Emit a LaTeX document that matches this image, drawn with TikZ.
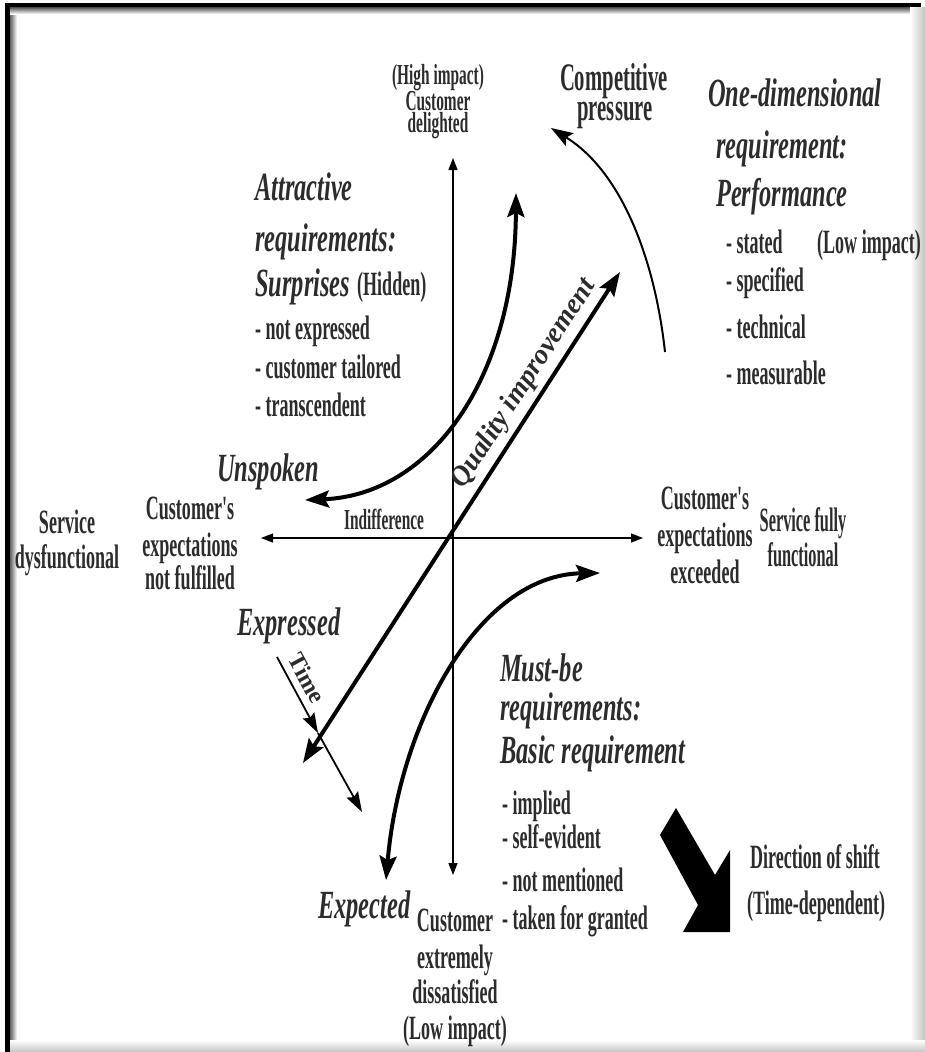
\documentclass[tikz,border=0pt]{standalone}
\usepackage{fontspec}
\setmainfont{Liberation Serif}
\newfontfamily\condfont{Liberation Serif}[FakeStretch=0.53]
\newfontfamily\narrowfont{Liberation Serif}[FakeStretch=0.48]
\newfontfamily\headfont{Liberation Serif}[FakeStretch=0.61]
\usetikzlibrary{arrows.meta}
\definecolor{ink}{HTML}{2C2C2C}
\definecolor{edgegray}{HTML}{C4C4C4}

\begin{document}
\begin{tikzpicture}[x=1pt,y=-1pt,
  body/.style={font=\condfont\bfseries\fontsize{34}{38}\selectfont, text=ink, inner sep=0pt, anchor=base west},
  bodyc/.style={body, anchor=base},
  small/.style={font=\condfont\bfseries\fontsize{29}{32}\selectfont, text=ink, inner sep=0pt, anchor=base},
  big/.style={font=\condfont\bfseries\fontsize{39}{44}\selectfont, text=ink, inner sep=0pt, anchor=base},
  head/.style={font=\headfont\bfseries\itshape\fontsize{40}{44}\selectfont, text=ink, inner sep=0pt, anchor=base west},
  axis/.style={line width=1.3pt, {Triangle[length=12pt,width=9pt]}-{Triangle[length=12pt,width=9pt]}},
  boldarrow/.style={line width=4pt, {Stealth[length=24pt,width=17pt,inset=4pt]}-{Stealth[length=24pt,width=17pt,inset=4pt]}},
  thinarrow/.style={line width=2pt, -{Stealth[length=22pt,width=15pt,inset=4pt]}},
  timearrow/.style={line width=1.8pt, -{Stealth[length=20pt,width=13pt,inset=3pt]}}
]
\useasboundingbox (0,0) rectangle (925,1052);
\fill[white] (0,0) rectangle (925,1052);

% frame: dark border top-left, soft grey edges right and bottom
\shade[left color=black!70, right color=white] (9,3) rectangle (17,1052);
\shade[top color=black!70, bottom color=white] (5,7) rectangle (925,14);
\shade[left color=white, right color=edgegray] (910,7) rectangle (925,1052);
\shade[top color=white, bottom color=edgegray] (9,1040) rectangle (925,1052);
\fill[black] (5,3) rectangle (10,1052);
\fill[black] (5,3) rectangle (921,7);

% anchor points of the axes and arrows
\coordinate (vtop) at (453,158);
\coordinate (vbot) at (453,875);
\coordinate (hl) at (261,538);
\coordinate (hr) at (643,538);
\coordinate (q1) at (303,763);
\coordinate (q2) at (620,272);
\coordinate (a1) at (305,500);
\coordinate (a2) at (516,193);
\coordinate (m1) at (386,880);
\coordinate (m2) at (600,573);
\coordinate (c1) at (665,352);
\coordinate (c2) at (551,128);
\coordinate (t1) at (277,657);
\coordinate (tm) at (318,733);
\coordinate (t2) at (362,812);

% axes
\draw[axis] (vbot) -- (vtop);
\draw[axis] (hl) -- (hr);

% quality improvement diagonal
\draw[boldarrow] (q1) -- (q2)
  node[pos=0.75, sloped, above=5pt, font=\bfseries\itshape\fontsize{28}{30}\selectfont, text=ink, inner sep=0pt] (qlabel) {Quality improvement};

% attractive and must-be curves
\draw[boldarrow] (a1) .. controls (430,495) and (515,380) .. (a2);
\draw[boldarrow] (m1) .. controls (400,720) and (480,575) .. (m2);

% competitive pressure arc
\draw[thinarrow] (c1) .. controls (655,260) and (622,172) .. (c2);

% time arrow with a mid arrowhead
\draw[timearrow] (t1) -- (tm)
  node[pos=0.38, sloped, above=7pt, font=\bfseries\fontsize{24}{26}\selectfont, text=ink, inner sep=0pt] (tlabel) {Time};
\draw[timearrow] (tm) -- (t2);

% direction of shift arrow
\fill[black] (676,808) -- (715,875) -- (730,850) -- (730,932) -- (683,932) -- (698,905) -- (660,835) -- cycle;

% top of vertical axis
\node[small] (hi) at (438,84) {(High impact)};
\node[small] (cd1) at (438,110) {Customer};
\node[small] (cd2) at (438,132) {delighted};

\node[big] (cp1) at (614,90) {Competitive};
\node[big] (cp2) at (615,120) {pressure};

% one-dimensional requirements
\node[head] (od1) at (708,106) {One-dimensional};
\node[head] (od2) at (716,158) {requirement:};
\node[head] (od3) at (716,206) {Performance};
\node[body] (od4) at (726,253) {- stated};
\node[body] (od5) at (817,253) {(Low impact)};
\node[body] (od6) at (726,291) {- specified};
\node[body] (od7) at (726,338) {- technical};
\node[body] (od8) at (726,384) {- measurable};

% attractive requirements
\node[head] (at1) at (255,200) {Attractive};
\node[head] (at2) at (255,251) {requirements:};
\node[head] (at3) at (255,296) {Surprises};
\node[body] (at4) at (357,295) {(Hidden)};
\node[body] (at5) at (255,339) {- not expressed};
\node[body] (at6) at (255,378) {- customer tailored};
\node[body] (at7) at (255,416) {- transcendent};

\node[head] (unsp) at (217,481) {Unspoken};
\node[font=\condfont\bfseries\fontsize{29}{32}\selectfont, text=ink, inner sep=0pt, anchor=base] (indiff) at (384,529) {Indifference};

% left end of horizontal axis
\node[bodyc] (sd1) at (67,533) {Service};
\node[bodyc] (sd2) at (67,568) {dysfunctional};
\node[bodyc] (nf1) at (190,519) {Customer's};
\node[bodyc] (nf2) at (190,556) {expectations};
\node[bodyc] (nf3) at (190,589) {not fulfilled};

% right end of horizontal axis
\node[bodyc] (ex1) at (705,509) {Customer's};
\node[bodyc] (ex2) at (705,546) {expectations};
\node[bodyc] (ex3) at (705,583) {exceeded};
\node[font=\narrowfont\bfseries\fontsize{34}{38}\selectfont, text=ink, inner sep=0pt, anchor=base] (sf1) at (803,531) {Service fully};
\node[font=\narrowfont\bfseries\fontsize{34}{38}\selectfont, text=ink, inner sep=0pt, anchor=base] (sf2) at (803,566) {functional};

\node[head] (expr) at (237,635) {Expressed};

% must-be requirements
\node[head] (mb1) at (500,681) {Must-be};
\node[head] (mb2) at (500,720) {requirements:};
\node[head] (mb3) at (500,763) {Basic requirement};
\node[body] (mb4) at (502,814) {- implied};
\node[body] (mb5) at (502,848) {- self-evident};
\node[body] (mb6) at (502,891) {- not mentioned};
\node[body] (mb7) at (502,929) {- taken for granted};

\node[head] (expd) at (318,918) {Expected};

% bottom of vertical axis
\node[bodyc] (ds1) at (455,931) {Customer};
\node[bodyc] (ds2) at (455,968) {extremely};
\node[bodyc] (ds3) at (455,1003) {dissatisfied};
\node[bodyc] (ds4) at (455,1039) {(Low impact)};

\node[body] (sh1) at (750,868) {Direction of shift};
\node[body] (sh2) at (747,914) {(Time-dependent)};
\end{tikzpicture}
\end{document}
